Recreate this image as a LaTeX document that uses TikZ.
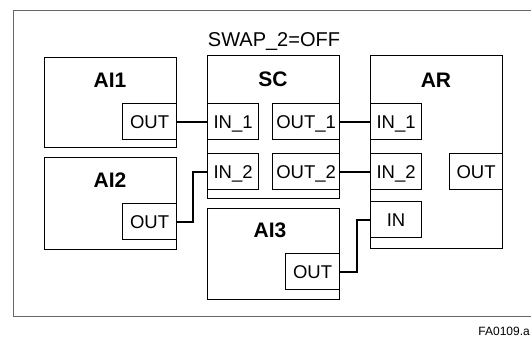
\documentclass[tikz,border=0pt]{standalone}
\usepackage{fontspec}
\setmainfont{Liberation Sans}
\begin{document}
\begin{tikzpicture}[x=1pt,y=-1pt,
  block/.style={draw,line width=1.4pt,anchor=north west,inner sep=0pt,minimum width=132pt},
  port/.style={draw,line width=1.2pt,fill=white,anchor=north west,inner sep=0pt,minimum height=36pt,
    text height=13.3pt,text depth=0pt,font=\fontsize{18.5}{18.5}\selectfont},
  title/.style={font=\fontsize{21}{21}\selectfont\bfseries},
  wire/.style={line width=1.8pt}]
\useasboundingbox (0,0) rectangle (531,338);
\draw[gray!80!black,line width=1pt] (540,10) -- (13,10) -- (13,316) -- (540,316);
% function blocks
\node[block,minimum height=90pt] (ai1) at (44,57) {};
\node[block,minimum height=92pt] (ai2) at (44,157) {};
\node[block,minimum height=143pt] (sc) at (207,55) {};
\node[block,minimum height=91pt] (ai3) at (207,208) {};
\node[block,minimum height=193pt] (ar) at (370,55) {};
\node[title] (ai1t) at (110,80) {AI1};
\node[title] (ai2t) at (110,180) {AI2};
\node[title] (sct) at (273,79) {SC};
\node[title] (ai3t) at (270,230) {AI3};
\node[title] (art) at (436,80) {AR};
% ports
\node[port,minimum width=54pt] (ai1out) at (122,103) {OUT};
\node[port,minimum width=54pt] (ai2out) at (122,203) {OUT};
\node[port,minimum width=51pt] (scin1) at (207,103) {IN\_1};
\node[port,minimum width=51pt] (scin2) at (207,153) {IN\_2};
\node[port,minimum width=67pt] (scout1) at (272,103) {OUT\_1};
\node[port,minimum width=67pt] (scout2) at (272,153) {OUT\_2};
\node[port,minimum width=54pt] (ai3out) at (285,253) {OUT};
\node[port,minimum width=51pt] (arin1) at (370,103) {IN\_1};
\node[port,minimum width=51pt] (arin2) at (370,153) {IN\_2};
\node[port,minimum width=51pt] (arin) at (370,201) {IN};
\node[port,minimum width=53pt] (arout) at (449,153) {OUT};
% links
\draw[wire] (ai1out.east) -- (scin1.west);
\draw[wire] (ai2out.east) -- ++(16,0) |- (scin2.west);
\draw[wire] (scout1.east) -- (arin1.west);
\draw[wire] (scout2.east) -- (arin2.west);
\draw[wire] (ai3out.east) -- ++(17,0) |- (arin.west);
\node[font=\fontsize{20}{20}\selectfont,anchor=base] (swap) at (274,46.5) {SWAP\_2=OFF};
\node[font=\fontsize{12}{12}\selectfont,anchor=base east,inner sep=0pt] (figno) at (530,335) {FA0109.a};
\end{tikzpicture}
\end{document}
